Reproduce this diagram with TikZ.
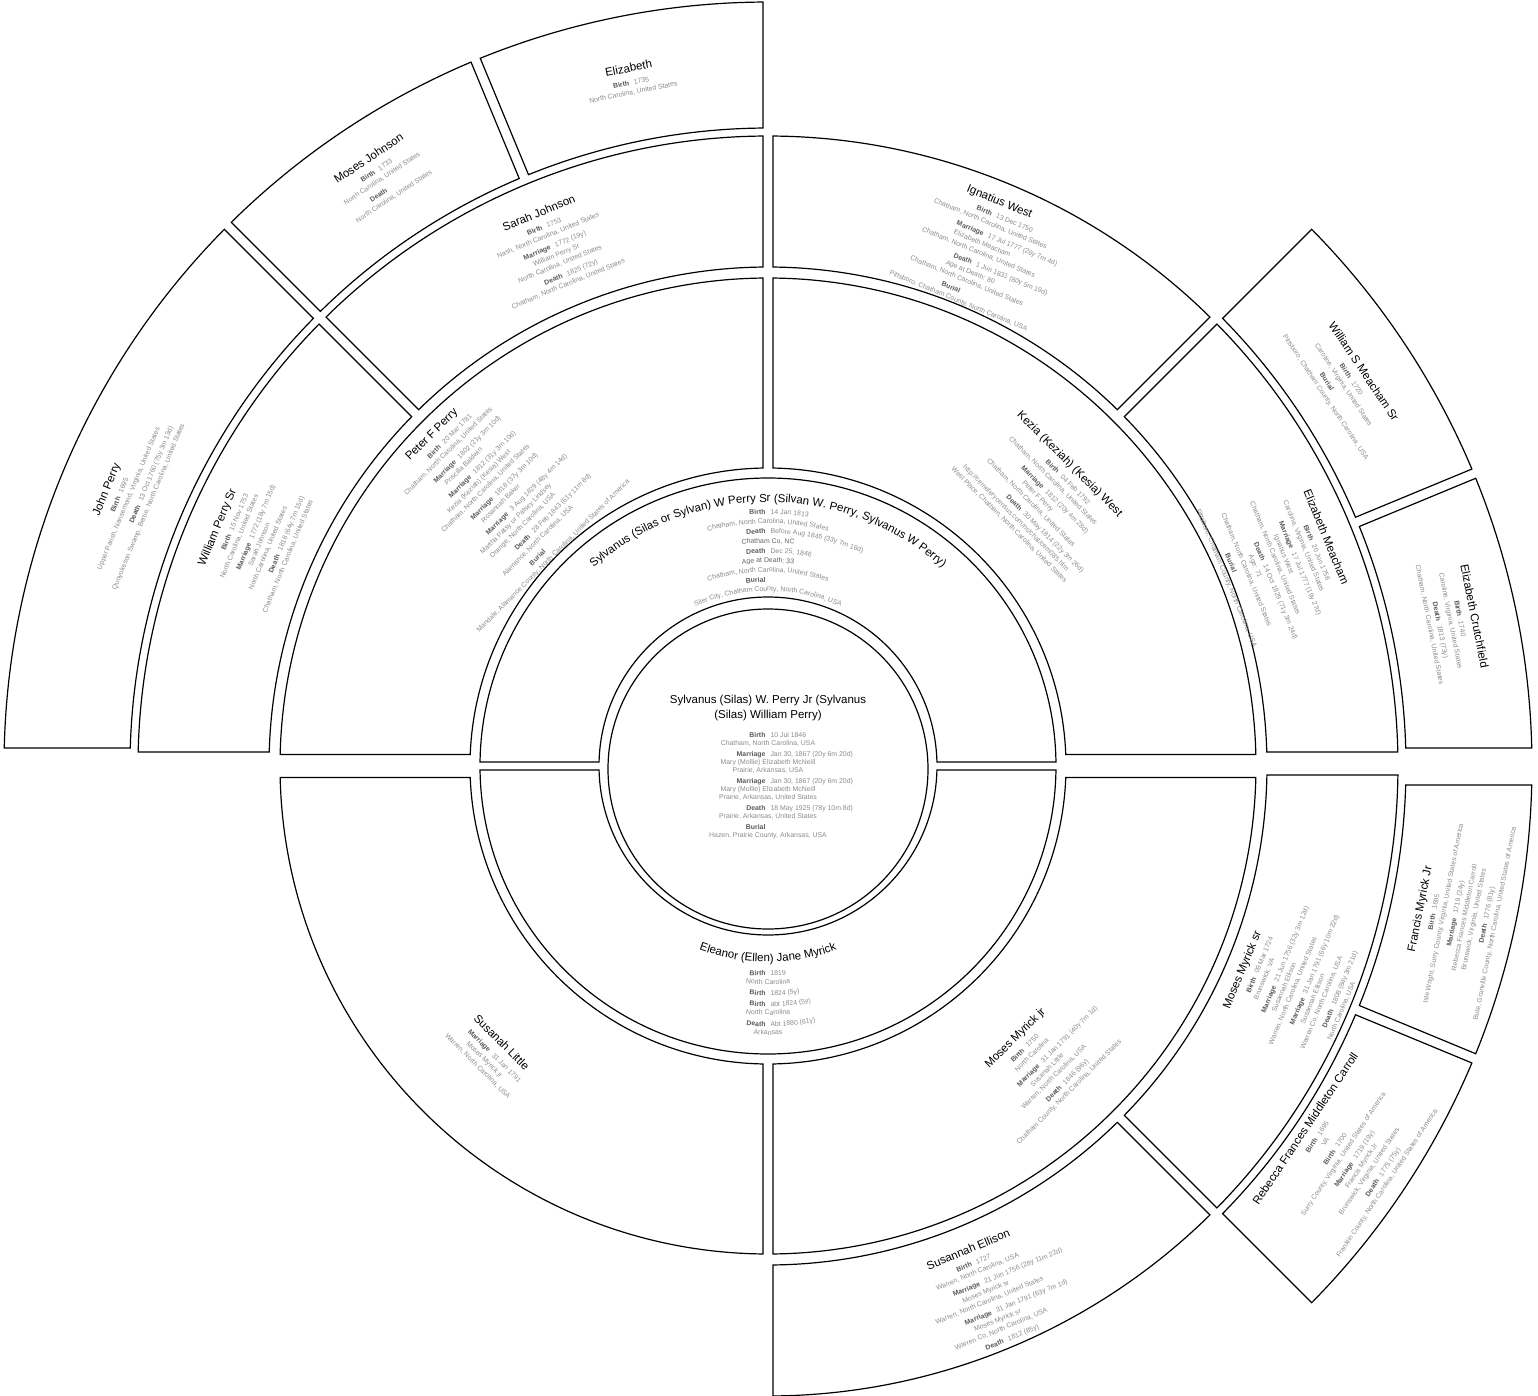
\documentclass[tikz,border=0pt]{standalone}
\usepackage{fontspec}
\setmainfont{Liberation Sans}
\usetikzlibrary{decorations.text}
\definecolor{labgray}{HTML}{5A5A5A}
\definecolor{valgray}{HTML}{8C8C8C}
\definecolor{notegray}{HTML}{666666}
\newcommand\ringfont{\fontsize{6.9}{9.5}\selectfont\lineskiplimit=-50pt}
\newcommand\centfont{\fontsize{6.9}{8}\selectfont\lineskiplimit=-50pt}
\newcommand\nm[1]{{\fontsize{11.5}{12}\selectfont\color{black}#1}}
\newcommand\ev[2]{\llap{{\color{labgray}\bfseries #1}\hspace{2.5pt}}\rlap{\hspace{2.5pt}#2}}
\newcommand\tfont{\fontsize{6.9}{8}\selectfont}
\newcommand\labfmt{\tfont\bfseries\color{labgray}}
\newcommand\valfmt{\tfont\color{valgray}}
\newcommand\notefmt{\tfont\color{notegray}}
\newcommand\namefmt{\fontsize{11.5}{12}\selectfont\color{black}}
% annular sector with parallel gaps: a1<a2, r1<r2, offsets d1 (a1 side), d2 (a2 side)
\newcommand\fanseg[6]{%
 \draw[seg] ({#1+asin(#5/#3)}:#3) -- ({#1+asin(#5/#4)}:#4)
   arc[start angle={#1+asin(#5/#4)}, end angle={#2-asin(#6/#4)}, radius=#4]
   -- ({#2-asin(#6/#3)}:#3)
   arc[start angle={#2-asin(#6/#3)}, end angle={#1+asin(#5/#3)}, radius=#3] -- cycle;}
% curved text, top half
\newcommand\tline[3]{\path[decorate,decoration={text along path,text align=center,text={|#2|#3}}] (180:#1) arc[start angle=180,end angle=0,radius=#1];}
\newcommand\tlab[2]{\path[decorate,decoration={text along path,text align=right,text={|\labfmt|#2}}] (180:#1) arc[start angle=180,end angle={90+143.24/#1},radius=#1];}
\newcommand\tval[2]{\path[decorate,decoration={text along path,text align=left,text={|\valfmt|#2}}] ({90-143.24/#1}:#1) arc[start angle={90-143.24/#1},end angle=0,radius=#1];}
\newcommand\tevent[3]{\tlab{#1}{#2}\tval{#1}{#3}}
% curved text, bottom half
\newcommand\bline[3]{\path[decorate,decoration={text along path,text align=center,text={|#2|#3}}] (180:#1) arc[start angle=180,end angle=360,radius=#1];}
\newcommand\blab[2]{\path[decorate,decoration={text along path,text align=right,text={|\labfmt|#2}}] (180:#1) arc[start angle=180,end angle={270-143.24/#1},radius=#1];}
\newcommand\bval[2]{\path[decorate,decoration={text along path,text align=left,text={|\valfmt|#2}}] ({270+143.24/#1}:#1) arc[start angle={270+143.24/#1},end angle=360,radius=#1];}
\newcommand\bevent[3]{\blab{#1}{#2}\bval{#1}{#3}}
\begin{document}
\begin{tikzpicture}[x=1pt,y=1pt,
  seg/.style={draw=black,line width=1.2pt,line join=miter},
  pnode/.style={align=center,inner sep=0pt,text=valgray,font=\ringfont},
  cnode/.style={align=center,inner sep=0pt,text=valgray,font=\centfont}]
\useasboundingbox (-768,-629) rectangle (770,766);
\fill[white] (-768,-629) rectangle (770,766);

% ---------- centre ----------
\draw[seg] (0,-3) circle[radius=160];
\node[cnode] (root) at (0,-1) {\nm{Sylvanus (Silas) W. Perry Jr (Sylvanus}\\[6.3pt]
\nm{(Silas) William Perry)}\\[11pt]
\ev{Birth}{10 Jul 1846}\\
Chatham, North Carolina, USA\\[3pt]
\ev{Marriage}{Jan 30, 1867 (20y 6m 20d)}\\
Mary (Mollie) Elizabeth McNeill\\
Prairie, Arkansas, USA\\[3pt]
\ev{Marriage}{Jan 30, 1867 (20y 6m 20d)}\\
Mary (Mollie) Elizabeth McNeill\\
Prairie, Arkansas, United States\\[3pt]
\ev{Death}{18 May 1925 (78y 10m 8d)}\\
Prairie, Arkansas, United States\\[3pt]
\ev{Burial}{}\\
Hazen, Prairie County, Arkansas, USA};

% ---------- ring 1 ----------
\fanseg{0}{180}{169}{288}{4}{4}
\fanseg{180}{360}{169}{288}{4}{4}
\tline{264}{\namefmt}{Sylvanus (Silas or Sylvan) W Perry Sr (Silvan W. Perry, Sylvanus W Perry)}
\tevent{252}{Birth}{14 Jan 1813}
\tline{242.5}{\valfmt}{Chatham, North Carolina, United States}
\tevent{232.5}{Death}{Before Aug 1846 (33y 7m 16d)}
\tline{223}{\notefmt}{Chatham Co, NC}
\tevent{213}{Death}{Dec 25, 1846}
\tline{203.5}{\notefmt}{Age at Death: 33}
\tline{194}{\valfmt}{Chatham, North Carolina, United States}
\tlab{184}{Burial}
\tline{175}{\valfmt}{Siler City, Chatham County, North Carolina, USA}

\bline{196}{\namefmt}{Eleanor (Ellen) Jane Myrick}
\bevent{210}{Birth}{1819}
\bline{218.5}{\valfmt}{North Carolina}
\bevent{229.5}{Birth}{1824 (5y)}
\bevent{240.5}{Birth}{abt 1824 (5y)}
\bline{249}{\valfmt}{North Carolina}
\bevent{260.5}{Death}{Abt 1880 (61y)}
\bline{269}{\valfmt}{Arkansas}

% ---------- ring 2 ----------
\fanseg{0}{90}{298}{488}{11.5}{5}
\fanseg{90}{180}{298}{488}{5}{11.5}
\fanseg{180}{270}{298}{488}{11.5}{5}
\fanseg{270}{360}{298}{488}{5}{11.5}

\node[pnode,rotate=45] (peter) at (135.5:387) {\nm{Peter F Perry}\\[3.5pt]
\ev{Birth}{20 Mar 1781}\\
Chatham, North Carolina, United States\\[2.5pt]
\ev{Marriage}{1802 (21y 3m 10d)}\\
Priscilla Baldwin\\[2.5pt]
\ev{Marriage}{1812 (31y 3m 10d)}\\
Kezia (Keziah) (Kesia) West\\
Chatham, North Carolina, United States\\[2.5pt]
\ev{Marriage}{1818 (37y 3m 10d)}\\
Rosannah Baker\\[2.5pt]
\ev{Marriage}{3 Aug 1829 (48y 4m 14d)}\\
Martha Patsy or Patsey Lindsey\\
Orange, North Carolina, USA\\[2.5pt]
\ev{Death}{28 Feb 1843 (61y 11m 8d)}\\
Alamance, North Carolina, USA\\[2.5pt]
\ev{Burial}{}\\
Mandale, Alamance County, North Carolina, United States of America};

\node[pnode,rotate=-45] (kezia) at (45:385) {\nm{Kezia (Keziah) (Kesia) West}\\[3.5pt]
\ev{Birth}{04 Feb 1792}\\
Chatham, North Carolina, United States\\[2.5pt]
\ev{Marriage}{1812 (20y 4m 28d)}\\
Peter F Perry\\
Chatham, North Carolina, United States\\[2.5pt]
\ev{Death}{30 May 1814 (22y 3m 26d)}\\
http://cemeterycensus.com/nc/chat/cem085.htm\\
West Place, Chatham, North Carolina, United States};

\node[pnode,rotate=-45] (susanah) at (226:400) {\nm{Susanah Little}\\[3.5pt]
\ev{Marriage}{31 Jan 1791}\\
Moses Myrick jr\\
Warren, North Carolina, USA};

\node[pnode,rotate=45] (mosesjr) at (-47.5:405) {\nm{Moses Myrick jr}\\[3.5pt]
\ev{Birth}{1750}\\
North Carolina\\[2.5pt]
\ev{Marriage}{31 Jan 1791 (40y 7m 1d)}\\
Susanah Little\\
Warren, North Carolina, USA\\[2.5pt]
\ev{Death}{1846 (96y)}\\
Chatham County, North Carolina, United States};

% ---------- ring 3 ----------
\fanseg{0}{45}{499}{630}{14}{5}
\fanseg{45}{90}{499}{630}{5}{5}
\fanseg{90}{135}{499}{630}{5}{5}
\fanseg{135}{180}{499}{630}{5}{14}
\fanseg{270}{315}{499}{630}{5}{5}
\fanseg{315}{360}{499}{630}{5}{9}

\node[pnode,rotate=-22.5] (ignatius) at (67.7:557) {\nm{Ignatius West}\\[3.5pt]
\ev{Birth}{13 Dec 1750}\\
Chatham, North Carolina, United States\\[2.5pt]
\ev{Marriage}{17 Jul 1777 (26y 7m 4d)}\\
Elizabeth Meacham\\
Chatham, North Carolina, United States\\[2.5pt]
\ev{Death}{1 Jun 1831 (80y 5m 19d)}\\
Age at Death: 80\\
Chatham, North Carolina, United States\\[2.5pt]
\ev{Burial}{}\\
Pittsboro, Chatham County, North Carolina, USA};

\node[pnode,rotate=22.5] (sarah) at (112.5:561) {\nm{Sarah Johnson}\\[3.5pt]
\ev{Birth}{1753}\\
Nash, North Carolina, United States\\[2.5pt]
\ev{Marriage}{1772 (19y)}\\
William Perry Sr\\
North Carolina, United States\\[2.5pt]
\ev{Death}{1825 (72y)}\\
Chatham, North Carolina, United States};

\node[pnode,rotate=67.5] (williamp) at (156.5:563) {\nm{William Perry Sr}\\[3.5pt]
\ev{Birth}{15 Nov 1753}\\
North Carolina, United States\\[2.5pt]
\ev{Marriage}{1772 (18y 7m 15d)}\\
Sarah Johnson\\
North Carolina, United States\\[2.5pt]
\ev{Death}{1818 (64y 7m 15d)}\\
Chatham, North Carolina, United States};

\node[pnode,rotate=-67.5] (elizm) at (22.3:550) {\nm{Elizabeth Meacham}\\[3.5pt]
\ev{Birth}{20 Jun 1758}\\
Caroline, Virginia, United States\\[2.5pt]
\ev{Marriage}{17 Jul 1777 (19y 27d)}\\
Ignatius West\\
Chatham, North Carolina, United States\\[2.5pt]
\ev{Death}{14 Oct 1829 (71y 3m 24d)}\\
Age: 71\\
Chatham, North Carolina, United States\\[2.5pt]
\ev{Burial}{}\\
Pittsboro, Chatham County, North Carolina, USA};

\node[pnode,rotate=67.5] (mosessr) at (-23.2:569) {\nm{Moses Myrick sr}\\[3.5pt]
\ev{Birth}{09 Mar 1724}\\
Brunswick, VA\\[2.5pt]
\ev{Marriage}{21 Jun 1756 (32y 3m 12d)}\\
Susannah Ellison\\
Warren, North Carolina, United States\\[2.5pt]
\ev{Marriage}{31 Jan 1791 (66y 10m 22d)}\\
Susannah Ellison\\
Warren Co, North Carolina, USA\\[2.5pt]
\ev{Death}{1808 (84y 3m 21d)}\\
North Carolina, USA};

\node[pnode,rotate=22.5] (susannah) at (-67.5:572) {\nm{Susannah Ellison}\\[3.5pt]
\ev{Birth}{1727}\\
Warren, North Carolina, USA\\[2.5pt]
\ev{Marriage}{21 Jun 1756 (28y 11m 22d)}\\
Moses Myrick sr\\
Warren, North Carolina, United States\\[2.5pt]
\ev{Marriage}{31 Jan 1791 (63y 7m 1d)}\\
Moses Myrick sr\\
Warren Co, North Carolina, USA\\[2.5pt]
\ev{Death}{1812 (85y)}};

% ---------- ring 4 ----------
\fanseg{0}{22.5}{638}{764}{18}{5}
\fanseg{22.5}{45}{638}{764}{5}{5}
\fanseg{90}{112.5}{638}{764}{5}{5}
\fanseg{112.5}{135}{638}{764}{5}{5}
\fanseg{135}{180}{638}{764}{5}{18}
\fanseg{315}{337.5}{638}{764}{5}{5}
\fanseg{337.5}{360}{638}{764}{5}{19}

\node[pnode,rotate=67.5] (john) at (157.3:695) {\nm{John Perry}\\[3.5pt]
\ev{Birth}{1695}\\
Upper Parish, Nansemond, Virginia, United States\\[2.5pt]
\ev{Death}{13 Oct 1760 (75y 3m 13d)}\\
Quoyokeson Swamp, Bertie, North Carolina, United States};

\node[pnode,rotate=33.75] (mosesj) at (123.3:705) {\nm{Moses Johnson}\\[3.5pt]
\ev{Birth}{1733}\\
North Carolina, United States\\[2.5pt]
\ev{Death}{}\\
North Carolina, United States};

\node[pnode,rotate=11.25] (eliz) at (101.3:700) {\nm{Elizabeth}\\[3.5pt]
\ev{Birth}{1735}\\
North Carolina, United States};

\node[pnode,rotate=-56.25] (williamm) at (33.5:692) {\nm{William S Meacham Sr}\\[3.5pt]
\ev{Birth}{1720}\\
Caroline, Virginia, United States\\[2.5pt]
\ev{Burial}{}\\
Pittsboro, Chatham County, North Carolina, USA};

\node[pnode,rotate=-78.75] (elizc) at (12:700) {\nm{Elizabeth Crutchfield}\\[3.5pt]
\ev{Birth}{1740}\\
Caroline, Virginia, United States\\[2.5pt]
\ev{Death}{1813 (73y)}\\
Chatham, North Carolina, United States};

\node[pnode,rotate=78.75] (francis) at (-12.3:705) {\nm{Francis Myrick Jr}\\[3.5pt]
\ev{Birth}{1695}\\
Isle Wright, Surry County, Virginia, United States of America\\[2.5pt]
\ev{Marriage}{1719 (24y)}\\
Rebecca Frances Middleton Carroll\\
Brunswick, Virginia, United States\\[2.5pt]
\ev{Death}{1776 (81y)}\\
Bute, Granville County, North Carolina, United States of America};

\node[pnode,rotate=56.25] (rebecca) at (-34:697) {\nm{Rebecca Frances Middleton Carroll}\\[3.5pt]
\ev{Birth}{1695}\\
VA\\[2.5pt]
\ev{Birth}{1700}\\
Surry County, Virginia, United States of America\\[2.5pt]
\ev{Marriage}{1719 (19y)}\\
Francis Myrick Jr\\
Brunswick, Virginia, United States\\[2.5pt]
\ev{Death}{1775 (75y)}\\
Franklin County, North Carolina, United States of America};
\end{tikzpicture}
\end{document}
